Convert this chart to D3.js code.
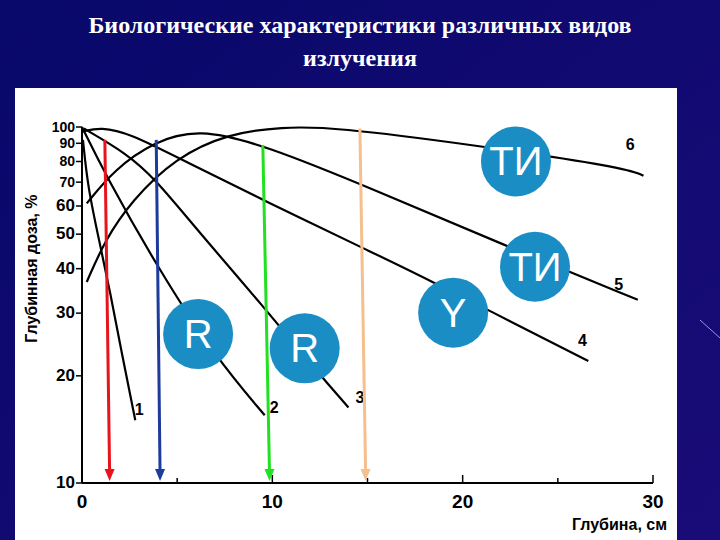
<!DOCTYPE html>
<html><head><meta charset="utf-8">
<script src="https://cdn.jsdelivr.net/npm/d3@7"></script>
<style>body{margin:0;background:#0b0b6a;} svg{display:block;}</style>
</head><body>
<svg id="chart" width="720" height="540"></svg>
<script>
// depth (cm) / dose (%)
const curve1 = [[0.05,92],[0.3,68],[0.9,48],[1.5,34],[2.1,23],[2.8,15]];
const curve2 = [[0,100],[1.2,74],[4.0,40],[7.0,22.6],[9.6,15.5]];
const curve3 = [[0.1,99],[2.3,84.5],[3.8,72],[6.1,51],[9.6,31],[12.3,20.7],[14.0,16.3]];
const curve4 = [[0,97],[1.0,100],[2.5,96],[5.3,80.7],[9.6,62],[15.4,44],[17.9,38],[26.6,22]];
const curve5 = [[0.25,61],[1.7,76],[3.8,91],[6.1,99],[9.6,89],[15.4,66.5],[22,47],[29.2,32.7]];
const curve6 = [[0.25,36.7],[1.2,48],[2.6,62],[4.9,82],[7.7,96],[10.5,100],[13.2,100],[20.6,89],[28.5,77],[29.5,73]];
const curves = [curve1, curve2, curve3, curve4, curve5, curve6];
const curveLabels = ["1","2","3","4","5","6"];
const labelPos = [[3.0,15.5],[10.1,15.7],[14.6,16.8],[26.3,24.2],[28.2,34.8],[28.8,86]];

const arrows = [
  {x0:1.2, y0:92, x1:1.45, color:"#e8141c"},
  {x0:3.9, y0:92, x1:4.1, color:"#1c3c9c"},
  {x0:9.5, y0:89, x1:9.85, color:"#22e022"},
  {x0:14.6, y0:99, x1:14.9, color:"#f5bf8e"}
];
const badges = [
  {x:6.1, y:26.2, t:"R"},
  {x:11.7, y:23.9, t:"R"},
  {x:19.5, y:30.1, t:"Y"},
  {x:22.8, y:80, t:"ТИ"},
  {x:23.8, y:40.5, t:"ТИ"}
];
const yTicks = [100,90,80,70,60,50,40,30,20,10];
const xTicks = [0,10,20,30];
const xMinor = [5,15,25];

const svg = d3.select("#chart");
const defs = svg.append("defs");
const grad = defs.append("linearGradient").attr("id","bg").attr("x1",0).attr("x2",1).attr("y1",0).attr("y2",1);
grad.append("stop").attr("offset","0%").attr("stop-color","#08086a");
grad.append("stop").attr("offset","100%").attr("stop-color","#1a0c78");
svg.append("rect").attr("width",720).attr("height",540).attr("fill","url(#bg)");
svg.append("line").attr("x1",700).attr("y1",320).attr("x2",720).attr("y2",338).attr("stroke","#a090e0").attr("stroke-width",1);

svg.append("text").attr("x",360).attr("y",33).attr("text-anchor","middle")
  .attr("fill","#fff").attr("font-family","Liberation Serif").attr("font-weight","bold").attr("font-size",24)
  .text("Биологические характеристики различных видов");
svg.append("text").attr("x",360).attr("y",66).attr("text-anchor","middle")
  .attr("fill","#fff").attr("font-family","Liberation Serif").attr("font-weight","bold").attr("font-size",24)
  .text("излучения");

svg.append("rect").attr("x",15).attr("y",88).attr("width",662).attr("height",452).attr("fill","#fff");

const x = d3.scaleLinear().domain([0,30]).range([82,653]);
const y = d3.scaleLog().domain([10,100]).range([483,127]);

const font = "Liberation Sans Narrow, Liberation Sans, sans-serif";

// axes
svg.append("line").attr("x1",x(0)).attr("x2",x(0)).attr("y1",y(100)).attr("y2",y(10)).attr("stroke","#000").attr("stroke-width",2);
svg.append("line").attr("x1",x(0)).attr("x2",x(30)).attr("y1",y(10)).attr("y2",y(10)).attr("stroke","#000").attr("stroke-width",2);
yTicks.forEach(v => {
  svg.append("line").attr("x1",x(0)-6).attr("x2",x(0)).attr("y1",y(v)).attr("y2",y(v)).attr("stroke","#000").attr("stroke-width",1.5);
  svg.append("text").attr("x",x(0)-7).attr("y",y(v)+5).attr("text-anchor","end")
    .attr("font-family",font).attr("font-weight","bold").attr("font-size",v >= 70 ? 14 : 17).text(v);
});
xTicks.concat(xMinor).forEach(v => {
  svg.append("line").attr("x1",x(v)).attr("x2",x(v)).attr("y1",y(10)).attr("y2",y(10)-(xMinor.includes(v)?5:8)).attr("stroke","#000").attr("stroke-width",1.5);
});
xTicks.forEach(v => {
  svg.append("text").attr("x",x(v)).attr("y",y(10)+25).attr("text-anchor","middle")
    .attr("font-family",font).attr("font-weight","bold").attr("font-size",19).text(v);
});
svg.append("text").attr("transform",`translate(37,${y(40)}) rotate(-90)`).attr("text-anchor","middle")
  .attr("font-family","Liberation Sans").attr("font-weight","bold").attr("font-size",16).text("Глубинная доза, %");
svg.append("text").attr("x",x(30)+14).attr("y",530).attr("text-anchor","end")
  .attr("font-family","Liberation Sans").attr("font-weight","bold").attr("font-size",16).text("Глубина, см");

// curves
const line = d3.line().x(d => x(d[0])).y(d => y(d[1])).curve(d3.curveBasis);
curves.forEach((c,i) => {
  svg.append("path").attr("d",line(c)).attr("fill","none").attr("stroke","#000").attr("stroke-width",2.2);
  svg.append("text").attr("x",x(labelPos[i][0])).attr("y",y(labelPos[i][1])).attr("text-anchor","middle")
    .attr("font-family","Liberation Sans").attr("font-weight","bold").attr("font-size",16).text(curveLabels[i]);
});

// arrows
arrows.forEach(a => {
  const x0 = x(a.x0), y0 = y(a.y0), x1 = x(a.x1), y1 = y(10) - 2;
  svg.append("line").attr("x1",x0).attr("y1",y0).attr("x2",x1).attr("y2",y1-10)
    .attr("stroke",a.color).attr("stroke-width",3);
  svg.append("path").attr("d",`M${x1-5},${y1-12} L${x1+5},${y1-12} L${x1},${y1} Z`).attr("fill",a.color);
});

// badges
badges.forEach(b => {
  svg.append("circle").attr("cx",x(b.x)).attr("cy",y(b.y)).attr("r",35).attr("fill","#1a8ec4");
  svg.append("text").attr("x",x(b.x)).attr("y",y(b.y)+14).attr("text-anchor","middle")
    .attr("fill","#fff").attr("font-family","Liberation Sans").attr("font-size",40).text(b.t);
});
</script>
</body></html>
